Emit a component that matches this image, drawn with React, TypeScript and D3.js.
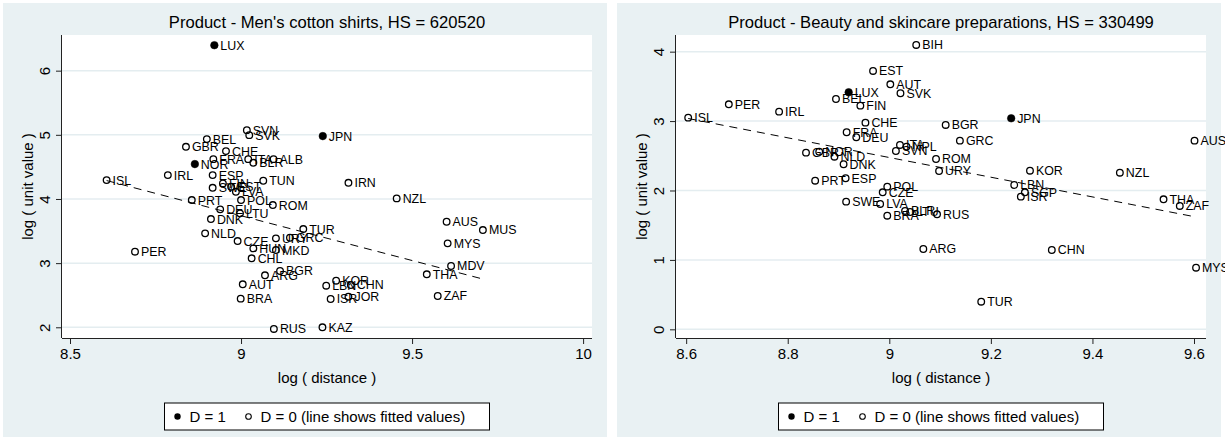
import React, { useEffect, useRef } from "react";
import * as d3 from "d3";

// Men's cotton shirts, HS 620520
const shirtIso = [
  "LUX", "SVN", "SVK", "BEL", "GBR", "CHE", "FRA", "ITA", "ALB", "BLR", "NOR", "IRL", "ISL", "ESP", "TUN",
  "FIN", "EST", "SWE", "LVA", "PRT", "POL", "ROM", "DEU", "LTU", "DNK", "TUR", "NLD", "CZE", "URY", "GRC",
  "HUN", "MKD", "CHL", "PER", "BGR", "ARG", "AUT", "BRA", "RUS", "KAZ", "KOR", "LBN", "CHN", "ISR", "JOR",
  "NZL", "IRN", "JPN", "AUS", "MUS", "MYS", "MDV", "THA", "ZAF",
];
const shirtLogDist = [
  8.922, 9.017, 9.024, 8.9, 8.839, 8.956, 8.919, 9.021, 9.095, 9.036, 8.865, 8.786, 8.607, 8.917, 9.065,
  8.947, 8.971, 8.917, 8.985, 8.856, 9.0, 9.093, 8.939, 8.997, 8.912, 9.182, 8.895, 8.99, 9.102, 9.143,
  9.036, 9.102, 9.031, 8.69, 9.114, 9.07, 9.005, 8.999, 9.096, 9.238, 9.278, 9.249, 9.321, 9.262, 9.314,
  9.455, 9.314, 9.239, 9.601, 9.707, 9.604, 9.614, 9.543, 9.575,
];
const shirtLogUv = [
  6.397, 5.073, 4.995, 4.933, 4.813, 4.746, 4.621, 4.621, 4.621, 4.564, 4.544, 4.372, 4.294, 4.372, 4.284,
  4.243, 4.19, 4.174, 4.112, 3.983, 3.983, 3.905, 3.838, 3.776, 3.687, 3.531, 3.464, 3.344, 3.386, 3.396,
  3.23, 3.204, 3.075, 3.178, 2.877, 2.81, 2.67, 2.446, 1.974, 2.0, 2.726, 2.648, 2.659, 2.441, 2.477,
  4.009, 4.252, 4.98, 3.645, 3.516, 3.308, 2.955, 2.826, 2.488,
];
const shirtDummy = ["LUX", "NOR", "JPN"];
const shirtFitX = [8.607, 9.707];
const shirtFitY = [4.287, 2.752];

// Beauty and skincare preparations, HS 330499
const beautyIso = [
  "BIH", "EST", "AUT", "SVK", "LUX", "BEL", "FIN", "PER", "IRL", "ISL", "CHE", "FRA", "DEU", "JPN", "BGR",
  "GRC", "ROM", "URY", "KOR", "NZL", "AUS", "LBN", "SGP", "ISR", "THA", "ZAF", "MYS", "CHN", "ARG", "TUR",
  "RUS", "BLR", "LTU", "BRA", "LVA", "SWE", "POL", "CZE", "PRT", "ESP", "DNK", "NLD", "NOR", "GBR", "ITA",
  "NPL", "SVN",
];
const beautyLogDist = [
  9.053, 8.968, 9.002, 9.022, 8.92, 8.895, 8.943, 8.684, 8.783, 8.604, 8.953, 8.916, 8.935, 9.24, 9.111,
  9.139, 9.092, 9.098, 9.277, 9.454, 9.601, 9.246, 9.267, 9.259, 9.54, 9.572, 9.604, 9.32, 9.067, 9.181,
  9.094, 9.031, 9.041, 8.996, 8.982, 8.915, 8.996, 8.987, 8.854, 8.914, 8.91, 8.892, 8.862, 8.836, 9.021,
  9.034, 9.013,
];
const beautyLogUv = [
  4.097, 3.722, 3.53, 3.401, 3.415, 3.318, 3.222, 3.242, 3.136, 3.049, 2.977, 2.839, 2.767, 3.04, 2.944,
  2.718, 2.454, 2.281, 2.285, 2.256, 2.718, 2.079, 1.974, 1.911, 1.873, 1.777, 0.888, 1.143, 1.157, 0.398,
  1.657, 1.705, 1.69, 1.637, 1.806, 1.839, 2.055, 1.974, 2.141, 2.176, 2.378, 2.487, 2.559, 2.545, 2.656,
  2.632, 2.569,
];
const beautyDummy = ["LUX", "JPN"];
const beautyFitX = [8.604, 9.604];
const beautyFitY = [3.037, 1.618];

const shirtXTicks = [8.5, 9, 9.5, 10];
const shirtYTicks = [2, 3, 4, 5, 6];
const beautyXTicks = [8.6, 8.8, 9, 9.2, 9.4, 9.6];
const beautyYTicks = [0, 1, 2, 3, 4];

const FONT = "'Liberation Sans', Arial, Helvetica, sans-serif";
const BG = "#e9f1f3";

type Panel = {
  title: string;
  left: number;
  iso: string[];
  dist: number[];
  uv: number[];
  dummy: string[];
  fitX: number[];
  fitY: number[];
  xTicks: number[];
  yTicks: number[];
  xDomain: [number, number];
  yDomain: [number, number];
};

const panels: Panel[] = [
  {
    title: "Product - Men's cotton shirts, HS = 620520",
    left: 0,
    iso: shirtIso,
    dist: shirtLogDist,
    uv: shirtLogUv,
    dummy: shirtDummy,
    fitX: shirtFitX,
    fitY: shirtFitY,
    xTicks: shirtXTicks,
    yTicks: shirtYTicks,
    xDomain: [8.4766, 10.026],
    yDomain: [1.833, 6.556],
  },
  {
    title: "Product - Beauty and skincare preparations, HS = 330499",
    left: 614,
    iso: beautyIso,
    dist: beautyLogDist,
    uv: beautyLogUv,
    dummy: beautyDummy,
    fitX: beautyFitX,
    fitY: beautyFitY,
    xTicks: beautyXTicks,
    yTicks: beautyYTicks,
    xDomain: [8.58, 9.6236],
    yDomain: [-0.125, 4.24],
  },
];

const App: React.FC = () => {
  const svgRef = useRef<SVGSVGElement>(null);

  useEffect(() => {
    if (!svgRef.current) return;
    const root = d3.select(svgRef.current);
    root.selectAll("*").remove();

    panels.forEach((p) => {
      const g = root.append("g").attr("transform", `translate(${p.left},0)`);
      const plot = { x0: 62, x1: 592, y0: 35, y1: 338 };
      const cx = (plot.x0 + plot.x1) / 2;

      g.append("rect").attr("x", 3).attr("y", 3).attr("width", 604).attr("height", 434).attr("fill", BG);
      g.append("rect")
        .attr("x", plot.x0)
        .attr("y", plot.y0)
        .attr("width", plot.x1 - plot.x0)
        .attr("height", plot.y1 - plot.y0)
        .attr("fill", "#fff");

      const x = d3.scaleLinear().domain(p.xDomain).range([plot.x0, plot.x1]);
      const y = d3.scaleLinear().domain(p.yDomain).range([plot.y1, plot.y0]);

      // grid
      g.selectAll(".grid")
        .data(p.yTicks)
        .enter()
        .append("line")
        .attr("x1", plot.x0)
        .attr("x2", plot.x1)
        .attr("y1", (d) => y(d))
        .attr("y2", (d) => y(d))
        .attr("stroke", "#e4edf0")
        .attr("stroke-width", 1.5);

      // axes
      const xAxis = g
        .append("g")
        .attr("transform", `translate(0,${plot.y1})`)
        .call(d3.axisBottom(x).tickValues(p.xTicks).tickSize(6).tickPadding(4).tickFormat((d) => String(d)));
      xAxis.select(".domain").attr("d", `M${plot.x0},0.5H${plot.x1}`).attr("stroke", "#222");
      xAxis.selectAll(".tick line").attr("stroke", "#222");
      xAxis.selectAll(".tick text").attr("font-size", 15).attr("font-family", FONT).attr("fill", "#000");

      const yAxis = g
        .append("g")
        .attr("transform", `translate(${plot.x0},0)`)
        .call(d3.axisLeft(y).tickValues(p.yTicks).tickSize(6).tickFormat((d) => String(d)));
      yAxis.select(".domain").attr("d", `M-0.5,${plot.y0}V${plot.y1}`).attr("stroke", "#222");
      yAxis.selectAll(".tick line").attr("stroke", "#222");
      yAxis
        .selectAll(".tick text")
        .attr("font-size", 15)
        .attr("font-family", FONT)
        .attr("fill", "#000")
        .attr("x", null)
        .attr("dy", null)
        .attr("text-anchor", "middle")
        .attr("transform", "translate(-12,0) rotate(-90)");

      // titles
      g.append("text")
        .attr("x", cx)
        .attr("y", 28)
        .attr("text-anchor", "middle")
        .attr("font-family", FONT)
        .attr("font-size", 16.6)
        .text(p.title);
      g.append("text")
        .attr("x", cx)
        .attr("y", 383)
        .attr("text-anchor", "middle")
        .attr("font-family", FONT)
        .attr("font-size", 15)
        .text("log ( distance )");
      g.append("text")
        .attr("transform", `translate(33,${(plot.y0 + plot.y1) / 2}) rotate(-90)`)
        .attr("text-anchor", "middle")
        .attr("font-family", FONT)
        .attr("font-size", 15)
        .text("log ( unit value )");

      // fitted line
      const fit = p.fitX.map((v, i) => [v, p.fitY[i]] as [number, number]);
      g.append("path")
        .attr("d", d3.line<[number, number]>().x((d) => x(d[0])).y((d) => y(d[1]))(fit))
        .attr("fill", "none")
        .attr("stroke", "#000")
        .attr("stroke-width", 1)
        .attr("stroke-dasharray", "8,6");

      // points
      const pts = p.iso.map((iso, i) => ({ iso, dx: p.dist[i], uv: p.uv[i], filled: p.dummy.includes(iso) }));
      const pg = g.selectAll(".pt").data(pts).enter().append("g");
      pg.append("circle")
        .attr("cx", (d) => x(d.dx))
        .attr("cy", (d) => y(d.uv))
        .attr("r", (d) => (d.filled ? 3.8 : 3.3))
        .attr("fill", (d) => (d.filled ? "#000" : "none"))
        .attr("stroke", "#000")
        .attr("stroke-width", (d) => (d.filled ? 0.5 : 1.3));
      pg.append("text")
        .attr("x", (d) => x(d.dx) + 6)
        .attr("y", (d) => y(d.uv))
        .attr("dy", "0.36em")
        .attr("font-family", FONT)
        .attr("font-size", 12.4)
        .text((d) => d.iso);

      // legend
      const lw = 325;
      const lg = g.append("g").attr("transform", `translate(${cx - lw / 2},403)`);
      lg.append("rect").attr("width", lw).attr("height", 27).attr("fill", "#fff").attr("stroke", "#000");
      lg.append("circle").attr("cx", 13).attr("cy", 13.5).attr("r", 3.2).attr("fill", "#000");
      lg.append("text").attr("x", 25).attr("y", 19).attr("font-family", FONT).attr("font-size", 15).text("D = 1");
      lg.append("circle")
        .attr("cx", 84)
        .attr("cy", 13.5)
        .attr("r", 2.8)
        .attr("fill", "none")
        .attr("stroke", "#000")
        .attr("stroke-width", 1.1);
      lg.append("text")
        .attr("x", 96)
        .attr("y", 19)
        .attr("font-family", FONT)
        .attr("font-size", 15)
        .text("D = 0 (line shows fitted values)");
    });
  }, []);

  return (
    <svg
      ref={svgRef}
      width={1225}
      height={440}
      style={{ position: "absolute", left: 0, top: 0, background: "#fff" }}
    />
  );
};

export default App;
